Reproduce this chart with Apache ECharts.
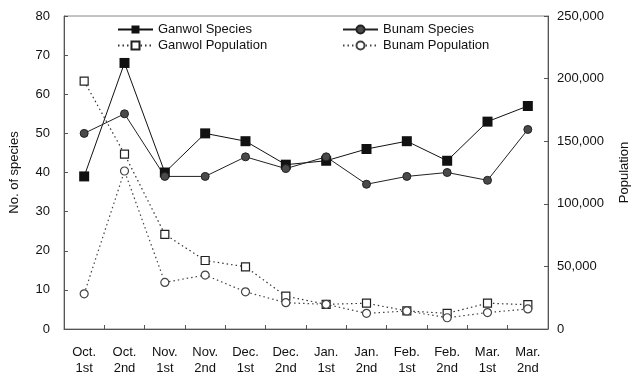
<!DOCTYPE html>
<html>
<head>
<meta charset="utf-8">
<script src="https://cdn.jsdelivr.net/npm/echarts@6/dist/echarts.min.js"></script>
<style>
  html, body { margin: 0; padding: 0; background: #fff; }
  #chart { width: 639px; height: 376px; }
</style>
</head>
<body>
<div id="chart"></div>
<script>
// Survey periods (half-months)
const categories = ['Oct.\n1st', 'Oct.\n2nd', 'Nov.\n1st', 'Nov.\n2nd', 'Dec.\n1st', 'Dec.\n2nd',
                    'Jan.\n1st', 'Jan.\n2nd', 'Feb.\n1st', 'Feb.\n2nd', 'Mar.\n1st', 'Mar.\n2nd'];

// Number of species (left axis)
const ganwolSpecies = [39, 68, 40, 50, 48, 42, 43, 46, 48, 43, 53, 57];
const bunamSpecies  = [50, 55, 39, 39, 44, 41, 44, 37, 39, 40, 38, 51];

// Population counts (right axis)
const ganwolPopulation = [198000, 139700, 75600, 54700, 49700, 26200, 19700, 20600, 14400, 12500, 20600, 19400];
const bunamPopulation  = [28100, 126200, 37200, 43100, 29700, 21000, 19700, 12500, 14400, 9000, 13100, 16000];

// Axis ranges
const speciesAxis = { min: 0, max: 80, interval: 10 };
const populationAxis = { min: 0, max: 250000, interval: 50000 };

const FONT = 'Liberation Sans, Arial, sans-serif';
const withCommas = v => String(v).replace(/\B(?=(\d{3})+(?!\d))/g, ',');

const chart = echarts.init(document.getElementById('chart'), null, { renderer: 'canvas' });

const axisLine = { show: true, lineStyle: { color: '#555', width: 1 } };
const innerTick = { show: true, inside: true, length: 4, lineStyle: { color: '#555' } };
const legendText = { fontFamily: FONT, fontSize: 13, color: '#111' };

chart.setOption({
  animation: false,
  backgroundColor: '#fff',
  textStyle: { fontFamily: FONT, color: '#111' },
  grid: {
    left: 64, right: 91, top: 16, bottom: 47,
    show: true, borderColor: '#888', borderWidth: 1
  },
  legend: [
    {
      left: 112, top: 18, orient: 'vertical', itemGap: 3,
      itemWidth: 35, itemHeight: 10,
      textStyle: legendText,
      data: ['Ganwol Species', 'Ganwol Population']
    },
    {
      left: 337, top: 18, orient: 'vertical', itemGap: 3,
      itemWidth: 35, itemHeight: 10,
      textStyle: legendText,
      data: ['Bunam Species', 'Bunam Population']
    }
  ],
  xAxis: {
    type: 'category',
    data: categories,
    boundaryGap: true,
    axisLine: axisLine,
    axisTick: innerTick,
    axisLabel: {
      fontFamily: FONT, fontSize: 13, color: '#111',
      margin: 15, lineHeight: 16, interval: 0
    },
    splitLine: { show: false }
  },
  yAxis: [
    {
      type: 'value',
      min: speciesAxis.min, max: speciesAxis.max, interval: speciesAxis.interval,
      name: 'No. of species', nameLocation: 'middle', nameGap: 43,
      nameTextStyle: { fontFamily: FONT, fontSize: 13, color: '#111' },
      axisLine: axisLine,
      axisTick: innerTick,
      axisLabel: { fontFamily: FONT, fontSize: 13, color: '#111', margin: 14 },
      splitLine: { show: false }
    },
    {
      type: 'value',
      position: 'right',
      min: populationAxis.min, max: populationAxis.max, interval: populationAxis.interval,
      name: 'Population', nameLocation: 'middle', nameGap: 70, nameRotate: 90,
      nameTextStyle: { fontFamily: FONT, fontSize: 13, color: '#111' },
      axisLine: axisLine,
      axisTick: innerTick,
      axisLabel: { fontFamily: FONT, fontSize: 13, color: '#111', margin: 9, formatter: withCommas },
      splitLine: { show: false }
    }
  ],
  series: [
    {
      name: 'Ganwol Species', type: 'line', yAxisIndex: 0, data: ganwolSpecies,
      symbol: 'rect', symbolSize: 10,
      lineStyle: { color: '#111', width: 1, type: 'solid' },
      itemStyle: { color: '#111', borderColor: '#111', borderWidth: 0 },
      z: 5
    },
    {
      name: 'Bunam Species', type: 'line', yAxisIndex: 0, data: bunamSpecies,
      symbol: 'circle', symbolSize: 8,
      lineStyle: { color: '#222', width: 1, type: 'solid' },
      itemStyle: { color: '#4a4a4a', borderColor: '#222', borderWidth: 1 },
      z: 5
    },
    {
      name: 'Ganwol Population', type: 'line', yAxisIndex: 1, data: ganwolPopulation,
      symbol: 'rect', symbolSize: 8, showAllSymbol: true,
      lineStyle: { color: '#333', width: 1.2, type: [1.5, 3] },
      itemStyle: { color: '#fff', borderColor: '#222', borderWidth: 1.2 },
      z: 4
    },
    {
      name: 'Bunam Population', type: 'line', yAxisIndex: 1, data: bunamPopulation,
      symbol: 'circle', symbolSize: 8, showAllSymbol: true,
      lineStyle: { color: '#444', width: 1.2, type: [1.5, 3] },
      itemStyle: { color: '#fff', borderColor: '#444', borderWidth: 1.2 },
      z: 4
    }
  ]
});
</script>
</body>
</html>
